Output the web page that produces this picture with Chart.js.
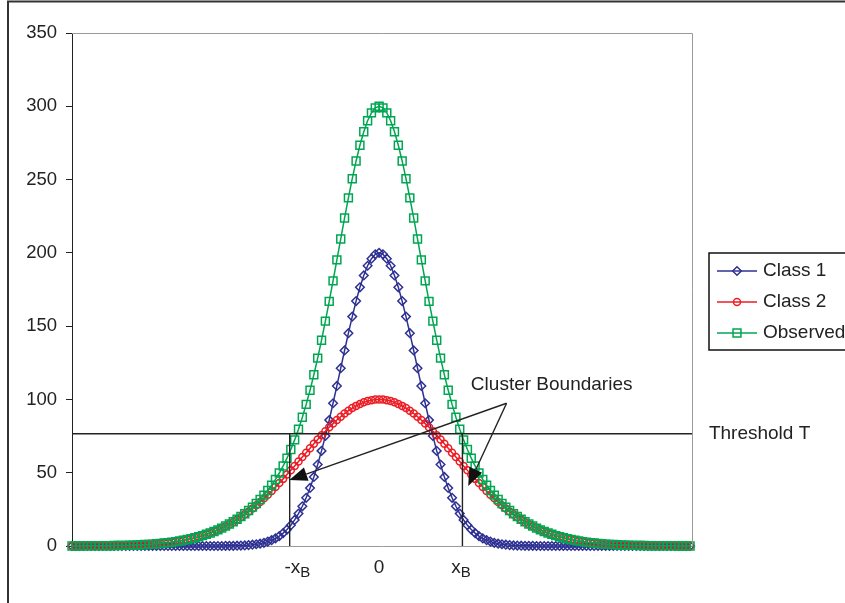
<!DOCTYPE html>
<html lang="en">
<head>
  <meta charset="utf-8">
  <title>Class 1 / Class 2 / Observed</title>
  <script src="https://cdn.jsdelivr.net/npm/chart.js@4.4.1/dist/chart.umd.min.js"></script>
  <style>
    body {
      margin: 0;
      background-color: #fff;
    }
    #wrap {
      width: 845px;
      height: 603px;
    }
  </style>
</head>
<body>
  <div id="wrap"><canvas id="myChart" width="845" height="603"></canvas></div>

  <script>
    // x positions of the samples
    const xValues = [
      -8.0, -7.9, -7.8, -7.7, -7.6, -7.5, -7.4, -7.3, -7.2, -7.1,
      -7.0, -6.9, -6.8, -6.7, -6.6, -6.5, -6.4, -6.3, -6.2, -6.1,
      -6.0, -5.9, -5.8, -5.7, -5.6, -5.5, -5.4, -5.3, -5.2, -5.1,
      -5.0, -4.9, -4.8, -4.7, -4.6, -4.5, -4.4, -4.3, -4.2, -4.1,
      -4.0, -3.9, -3.8, -3.7, -3.6, -3.5, -3.4, -3.3, -3.2, -3.1,
      -3.0, -2.9, -2.8, -2.7, -2.6, -2.5, -2.4, -2.3, -2.2, -2.1,
      -2.0, -1.9, -1.8, -1.7, -1.6, -1.5, -1.4, -1.3, -1.2, -1.1,
      -1.0, -0.9, -0.8, -0.7, -0.6, -0.5, -0.4, -0.3, -0.2, -0.1,
      0.0, 0.1, 0.2, 0.3, 0.4, 0.5, 0.6, 0.7, 0.8, 0.9,
      1.0, 1.1, 1.2, 1.3, 1.4, 1.5, 1.6, 1.7, 1.8, 1.9,
      2.0, 2.1, 2.2, 2.3, 2.4, 2.5, 2.6, 2.7, 2.8, 2.9,
      3.0, 3.1, 3.2, 3.3, 3.4, 3.5, 3.6, 3.7, 3.8, 3.9,
      4.0, 4.1, 4.2, 4.3, 4.4, 4.5, 4.6, 4.7, 4.8, 4.9,
      5.0, 5.1, 5.2, 5.3, 5.4, 5.5, 5.6, 5.7, 5.8, 5.9,
      6.0, 6.1, 6.2, 6.3, 6.4, 6.5, 6.6, 6.7, 6.8, 6.9,
      7.0, 7.1, 7.2, 7.3, 7.4, 7.5, 7.6, 7.7, 7.8, 7.9,
      8.0, 8.1
    ];

    const class1 = [
      0, 0, 0, 0, 0, 0, 0, 0, 0, 0,
      0, 0, 0, 0, 0, 0, 0, 0, 0, 0,
      0, 0, 0, 0, 0, 0, 0, 0, 0, 0,
      0, 0, 0, 0, 0, 0, 0, 0, 0, 0,
      0.1, 0.1, 0.1, 0.2, 0.3, 0.4, 0.6, 0.9, 1.2, 1.6,
      2.2, 3.0, 4.0, 5.2, 6.8, 8.8, 11.2, 14.2, 17.8, 22.1,
      27.1, 32.9, 39.6, 47.1, 55.6, 64.9, 75.1, 85.9, 97.4, 109.2,
      121.3, 133.4, 145.2, 156.5, 167.1, 176.5, 184.6, 191.2, 196.0, 199.0,
      200, 199.0, 196.0, 191.2, 184.6, 176.5, 167.1, 156.5, 145.2, 133.4,
      121.3, 109.2, 97.4, 85.9, 75.1, 64.9, 55.6, 47.1, 39.6, 32.9,
      27.1, 22.1, 17.8, 14.2, 11.2, 8.8, 6.8, 5.2, 4.0, 3.0,
      2.2, 1.6, 1.2, 0.9, 0.6, 0.4, 0.3, 0.2, 0.1, 0.1,
      0.1, 0, 0, 0, 0, 0, 0, 0, 0, 0,
      0, 0, 0, 0, 0, 0, 0, 0, 0, 0,
      0, 0, 0, 0, 0, 0, 0, 0, 0, 0,
      0, 0, 0, 0, 0, 0, 0, 0, 0, 0,
      0, 0
    ];

    const class2 = [
      0, 0, 0, 0.1, 0.1, 0.1, 0.1, 0.1, 0.2, 0.2,
      0.2, 0.3, 0.3, 0.4, 0.4, 0.5, 0.6, 0.7, 0.8, 1.0,
      1.1, 1.3, 1.5, 1.7, 2.0, 2.3, 2.6, 3.0, 3.4, 3.9,
      4.4, 5.0, 5.6, 6.3, 7.1, 8.0, 8.9, 9.9, 11.0, 12.2,
      13.5, 14.9, 16.4, 18.1, 19.8, 21.6, 23.6, 25.6, 27.8, 30.1,
      32.5, 34.9, 37.5, 40.2, 43.0, 45.8, 48.7, 51.6, 54.6, 57.6,
      60.7, 63.7, 66.7, 69.7, 72.6, 75.5, 78.3, 81.0, 83.5, 86.0,
      88.2, 90.4, 92.3, 94.1, 95.6, 96.9, 98.0, 98.9, 99.5, 99.9,
      100, 99.9, 99.5, 98.9, 98.0, 96.9, 95.6, 94.1, 92.3, 90.4,
      88.2, 86.0, 83.5, 81.0, 78.3, 75.5, 72.6, 69.7, 66.7, 63.7,
      60.7, 57.6, 54.6, 51.6, 48.7, 45.8, 43.0, 40.2, 37.5, 34.9,
      32.5, 30.1, 27.8, 25.6, 23.6, 21.6, 19.8, 18.1, 16.4, 14.9,
      13.5, 12.2, 11.0, 9.9, 8.9, 8.0, 7.1, 6.3, 5.6, 5.0,
      4.4, 3.9, 3.4, 3.0, 2.6, 2.3, 2.0, 1.7, 1.5, 1.3,
      1.1, 1.0, 0.8, 0.7, 0.6, 0.5, 0.4, 0.4, 0.3, 0.3,
      0.2, 0.2, 0.2, 0.1, 0.1, 0.1, 0.1, 0.1, 0, 0,
      0, 0
    ];

    const observed = [
      0, 0, 0, 0.1, 0.1, 0.1, 0.1, 0.1, 0.2, 0.2,
      0.2, 0.3, 0.3, 0.4, 0.4, 0.5, 0.6, 0.7, 0.8, 1.0,
      1.1, 1.3, 1.5, 1.7, 2.0, 2.3, 2.6, 3.0, 3.4, 3.9,
      4.4, 5.0, 5.6, 6.3, 7.1, 8.0, 8.9, 9.9, 11.0, 12.2,
      13.6, 15.0, 16.5, 18.3, 20.1, 22.0, 24.2, 26.5, 29.0, 31.7,
      34.7, 37.9, 41.5, 45.4, 49.8, 54.6, 59.9, 65.8, 72.4, 79.7,
      87.8, 96.6, 106.3, 116.8, 128.2, 140.4, 153.4, 166.9, 180.9, 195.2,
      209.5, 223.8, 237.5, 250.6, 262.7, 273.4, 282.6, 290.1, 295.5, 298.9,
      300, 298.9, 295.5, 290.1, 282.6, 273.4, 262.7, 250.6, 237.5, 223.8,
      209.5, 195.2, 180.9, 166.9, 153.4, 140.4, 128.2, 116.8, 106.3, 96.6,
      87.8, 79.7, 72.4, 65.8, 59.9, 54.6, 49.8, 45.4, 41.5, 37.9,
      34.7, 31.7, 29.0, 26.5, 24.2, 22.0, 20.1, 18.3, 16.5, 15.0,
      13.6, 12.2, 11.0, 9.9, 8.9, 8.0, 7.1, 6.3, 5.6, 5.0,
      4.4, 3.9, 3.4, 3.0, 2.6, 2.3, 2.0, 1.7, 1.5, 1.3,
      1.1, 1.0, 0.8, 0.7, 0.6, 0.5, 0.4, 0.4, 0.3, 0.3,
      0.2, 0.2, 0.2, 0.1, 0.1, 0.1, 0.1, 0.1, 0, 0,
      0, 0
    ];

    // x axis labels: main text + subscript
    const xTickPos = [-2.13, 0, 2.13];
    const xTickText = ['-x', '0', 'x'];
    const xTickSub = ['B', '', 'B'];

    const thresholdT = 76.6;
    const boundaryX = [-2.33, 2.17];

    // arrow annotations (data coords)
    const arrowFrom = { x: 3.32, y: 97.4 };
    const arrowTo = [{ x: -2.34, y: 45.0 }, { x: 2.32, y: 40.9 }];
    const clusterLabelPos = { x: 2.39, y: 109.8 };
    const thresholdLabelX = 8.59;

    const seriesNames = ['Class 1', 'Class 2', 'Observed'];
    const seriesColors = ['#2e3192', '#ed1c24', '#00a651'];
    const seriesStyles = ['rectRot', 'circle', 'rect'];
    const seriesRadius = [4.3, 3.5, 5.6];

    const FONT = '"Liberation Sans", Arial, sans-serif';
    const TEXT = '#222';

    function drawArrow(ctx, x1, y1, x2, y2) {
      const ang = Math.atan2(y2 - y1, x2 - x1);
      const len = 18, half = 7;
      const bx = x2 - Math.cos(ang) * len;
      const by = y2 - Math.sin(ang) * len;
      ctx.beginPath();
      ctx.moveTo(x1, y1);
      ctx.lineTo(bx, by);
      ctx.stroke();
      ctx.beginPath();
      ctx.moveTo(x2, y2);
      ctx.lineTo(bx + Math.sin(ang) * half, by - Math.cos(ang) * half);
      ctx.lineTo(bx - Math.sin(ang) * half, by + Math.cos(ang) * half);
      ctx.closePath();
      ctx.fill();
    }

    function drawMarker(ctx, style, x, y, r, color) {
      ctx.save();
      ctx.strokeStyle = color;
      ctx.lineWidth = 1.5;
      ctx.beginPath();
      if (style === 'circle') {
        ctx.arc(x, y, r, 0, Math.PI * 2);
      } else if (style === 'rect') {
        const s = r * Math.SQRT1_2;
        ctx.rect(x - s, y - s, 2 * s, 2 * s);
      } else {
        ctx.moveTo(x - r, y);
        ctx.lineTo(x, y - r);
        ctx.lineTo(x + r, y);
        ctx.lineTo(x, y + r);
        ctx.closePath();
      }
      ctx.stroke();
      ctx.restore();
    }

    const extras = {
      id: 'extras',
      afterDatasetsDraw(chart) {
        const ctx = chart.ctx;
        const xs = chart.scales.x;
        const ys = chart.scales.y;
        const area = chart.chartArea;

        ctx.save();
        // grey plot frame (top and right)
        ctx.strokeStyle = '#9a9a9a';
        ctx.lineWidth = 1;
        ctx.beginPath();
        ctx.moveTo(area.left, area.top + 0.5);
        ctx.lineTo(area.right + 0.5, area.top + 0.5);
        ctx.lineTo(area.right + 0.5, area.bottom);
        ctx.stroke();

        // threshold line
        ctx.strokeStyle = '#222';
        ctx.fillStyle = '#111';
        ctx.lineWidth = 1.4;
        const ty = ys.getPixelForValue(thresholdT);
        ctx.beginPath();
        ctx.moveTo(area.left, ty);
        ctx.lineTo(area.right, ty);
        ctx.stroke();

        // boundary verticals
        boundaryX.forEach(v => {
          const px = xs.getPixelForValue(v);
          ctx.beginPath();
          ctx.moveTo(px, ty);
          ctx.lineTo(px, area.bottom);
          ctx.stroke();
        });

        // arrows
        const ax = xs.getPixelForValue(arrowFrom.x);
        const ay = ys.getPixelForValue(arrowFrom.y);
        arrowTo.forEach(p => {
          drawArrow(ctx, ax, ay, xs.getPixelForValue(p.x), ys.getPixelForValue(p.y));
        });

        // annotation text
        ctx.fillStyle = TEXT;
        ctx.font = '19px ' + FONT;
        ctx.textBaseline = 'middle';
        ctx.textAlign = 'left';
        ctx.fillText('Cluster Boundaries', xs.getPixelForValue(clusterLabelPos.x), ys.getPixelForValue(clusterLabelPos.y));
        ctx.fillText('Threshold T', xs.getPixelForValue(thresholdLabelX), ty);

        // x axis labels with subscripts
        const ly = area.bottom + 22;
        xTickPos.forEach((v, i) => {
          ctx.font = '19px ' + FONT;
          const w1 = ctx.measureText(xTickText[i]).width;
          ctx.font = '15px ' + FONT;
          const w2 = xTickSub[i] ? ctx.measureText(xTickSub[i]).width : 0;
          const left = xs.getPixelForValue(v) - (w1 + w2) / 2;
          ctx.font = '19px ' + FONT;
          ctx.fillText(xTickText[i], left, ly);
          if (xTickSub[i]) {
            ctx.font = '15px ' + FONT;
            ctx.fillText(xTickSub[i], left + w1, ly + 5);
          }
        });

        // legend box
        const lx = area.right + 17;
        const lt = area.top + 220;
        ctx.strokeStyle = '#111';
        ctx.lineWidth = 1.5;
        ctx.strokeRect(lx, lt, 200, 97);
        ctx.font = '19px ' + FONT;
        seriesNames.forEach((name, i) => {
          const yy = lt + 18 + i * 31;
          ctx.strokeStyle = seriesColors[i];
          ctx.lineWidth = 1.5;
          ctx.beginPath();
          ctx.moveTo(lx + 8, yy);
          ctx.lineTo(lx + 48, yy);
          ctx.stroke();
          drawMarker(ctx, seriesStyles[i], lx + 28, yy, seriesRadius[i], seriesColors[i]);
          ctx.fillStyle = TEXT;
          ctx.fillText(name, lx + 54, yy);
        });

        // outer frame
        ctx.strokeStyle = '#333';
        ctx.lineWidth = 2;
        ctx.strokeRect(8, 1.5, 900, 700);
        ctx.restore();
      }
    };

    const datasets = [class1, class2, observed].map((vals, i) => ({
      label: seriesNames[i],
      data: vals,
      borderColor: seriesColors[i],
      borderWidth: 1.5,
      pointStyle: seriesStyles[i],
      pointRadius: seriesRadius[i],
      pointBorderWidth: 1.5,
      pointBorderColor: seriesColors[i],
      pointBackgroundColor: 'rgba(0,0,0,0)',
      tension: 0,
      clip: false,
      order: 2 - i
    }));

    new Chart('myChart', {
      type: 'line',
      data: {
        labels: xValues,
        datasets: datasets
      },
      options: {
        responsive: false,
        animation: false,
        events: [],
        layout: {
          padding: { left: 0, right: 153, top: 33, bottom: 57 }
        },
        plugins: {
          legend: { display: false },
          tooltip: { enabled: false }
        },
        scales: {
          x: {
            type: 'linear',
            min: -8,
            max: 8.15,
            ticks: { display: false },
            grid: { display: false, drawTicks: false },
            border: { display: true, color: '#9a9a9a', width: 1 },
            afterFit(s) { s.height = 0; }
          },
          y: {
            min: 0,
            max: 350,
            ticks: {
              stepSize: 50,
              padding: 9,
              color: TEXT,
              font: { family: FONT, size: 18.5 }
            },
            grid: {
              drawOnChartArea: false,
              drawTicks: true,
              tickLength: 6,
              color: '#222'
            },
            border: { display: true, color: '#222', width: 1 },
            afterFit(s) { s.width = 72; }
          }
        }
      },
      plugins: [extras]
    });
  </script>
</body>
</html>
